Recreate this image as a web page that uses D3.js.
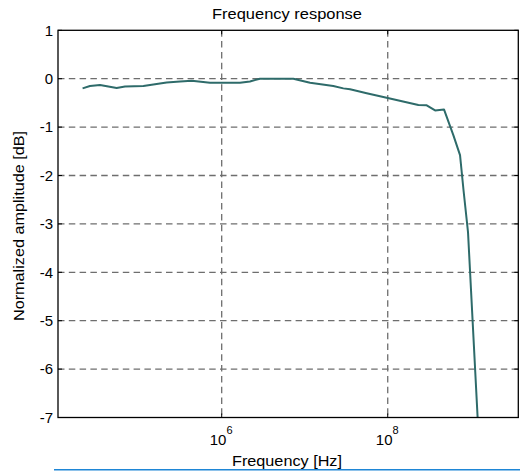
<!DOCTYPE html>
<html>
<head>
<meta charset="utf-8">
<script src="https://cdn.jsdelivr.net/npm/d3@7"></script>
<style>
html,body{margin:0;padding:0;background:#fff;}
svg{display:block;font-family:"Liberation Sans",Arial,sans-serif;}
</style>
</head>
<body>
<svg id="chart" width="520" height="471"></svg>
<script>
// Data
const frequencyHz = [2.11e4, 2.59e4, 3.42e4, 5.43e4, 6.84e4, 1.14e5, 2.17e5, 3.15e5, 4.36e5, 7.23e5,
  1.66e6, 2.19e6, 2.89e6, 7.29e6, 1.16e7, 2.21e7, 2.92e7, 3.52e7, 5.58e7, 7.36e7,
  1.0e8, 2.34e8, 2.95e8, 3.72e8, 4.76e8, 6.17e8, 7.43e8, 8.18e8, 9.27e8, 1.21e9, 1.26e9];
const amplitudeDb = [-0.20, -0.15, -0.13, -0.19, -0.16, -0.15, -0.08, -0.06, -0.04, -0.085,
  -0.085, -0.056, 0.0, 0.0, -0.085, -0.15, -0.20, -0.22, -0.30, -0.345,
  -0.40, -0.545, -0.55, -0.655, -0.634, -1.165, -1.58, -2.30, -3.17, -7.0, -7.73];
const xTicks = [1e6, 1e8];
const xTickExponents = ["6", "8"];
const yTicks = [1, 0, -1, -2, -3, -4, -5, -6, -7];
const xDomain = [1.067e4, 3.74e9];
const yDomain = [-7, 1];
const titleText = "Frequency response";
const xLabelText = "Frequency [Hz]";
const yLabelText = "Normalized amplitude [dB]";

const svg = d3.select("#chart");
const m = {left: 58, right: 518.3, top: 30.3, bottom: 417.5};
const fs = 15;

const x = d3.scaleLog().domain(xDomain).range([m.left, m.right]);
const y = d3.scaleLinear().domain(yDomain).range([m.bottom, m.top]);

svg.append("defs").append("clipPath").attr("id", "clip")
  .append("rect").attr("x", m.left).attr("y", m.top)
  .attr("width", m.right - m.left).attr("height", m.bottom - m.top);

const gridColor = "#6e6e6e";
// horizontal grid
svg.append("g").selectAll("line").data(yTicks.filter(d => d > yDomain[0] && d < yDomain[1])).join("line")
  .attr("x1", m.left).attr("x2", m.right)
  .attr("y1", d => y(d)).attr("y2", d => y(d))
  .attr("stroke", gridColor).attr("stroke-width", 1.3).attr("stroke-dasharray", "6.5,4.3");
// vertical grid
svg.append("g").selectAll("line").data(xTicks).join("line")
  .attr("x1", d => x(d)).attr("x2", d => x(d))
  .attr("y1", m.top).attr("y2", m.bottom)
  .attr("stroke", gridColor).attr("stroke-width", 1.3).attr("stroke-dasharray", "6.5,4.3");

// data line
const line = d3.line().x((d, i) => x(frequencyHz[i])).y(d => y(d));
svg.append("path").datum(amplitudeDb)
  .attr("clip-path", "url(#clip)")
  .attr("d", line)
  .attr("fill", "none").attr("stroke", "#2e6b6a").attr("stroke-width", 2)
  .attr("stroke-linejoin", "round");

// axes box
svg.append("rect").attr("x", m.left).attr("y", m.top)
  .attr("width", m.right - m.left).attr("height", m.bottom - m.top)
  .attr("fill", "none").attr("stroke", "#000").attr("stroke-width", 1.3);

// inward ticks
const tl = 4;
const tg = svg.append("g");
yTicks.forEach(d => {
  tg.append("line").attr("x1", m.left).attr("x2", m.left + tl).attr("y1", y(d)).attr("y2", y(d)).attr("stroke", "#000");
  tg.append("line").attr("x1", m.right).attr("x2", m.right - tl).attr("y1", y(d)).attr("y2", y(d)).attr("stroke", "#000");
});
xTicks.forEach(d => {
  tg.append("line").attr("x1", x(d)).attr("x2", x(d)).attr("y1", m.bottom).attr("y2", m.bottom - tl).attr("stroke", "#000");
  tg.append("line").attr("x1", x(d)).attr("x2", x(d)).attr("y1", m.top).attr("y2", m.top + tl).attr("stroke", "#000");
});

// y tick labels
svg.append("g").selectAll("text").data(yTicks).join("text")
  .attr("x", m.left - 5).attr("y", d => y(d)).attr("dy", "0.35em")
  .attr("text-anchor", "end").attr("font-size", fs).attr("fill", "#000")
  .text(d => d);

// x tick labels with superscript
const xl = svg.append("g");
xTicks.forEach((d, i) => {
  const t = xl.append("text").attr("x", x(d) - 0.5).attr("y", 444.5)
    .attr("text-anchor", "middle").attr("font-size", fs).attr("fill", "#000");
  t.append("tspan").text("10");
  t.append("tspan").attr("dy", -11).attr("font-size", 11).text(xTickExponents[i]);
});

// title
svg.append("text").attr("x", 287).attr("y", 19)
  .attr("text-anchor", "middle").attr("font-size", fs).attr("fill", "#000")
  .attr("textLength", 150).attr("lengthAdjust", "spacingAndGlyphs").text(titleText);
// x label
svg.append("text").attr("x", 287).attr("y", 466)
  .attr("text-anchor", "middle").attr("font-size", fs).attr("fill", "#000")
  .attr("textLength", 110).attr("lengthAdjust", "spacingAndGlyphs").text(xLabelText);
// y label
svg.append("text").attr("transform", "translate(24," + 226 + ") rotate(-90)")
  .attr("text-anchor", "middle").attr("font-size", fs).attr("fill", "#000")
  .attr("textLength", 190).attr("lengthAdjust", "spacingAndGlyphs").text(yLabelText);

// blue rule at bottom
svg.append("line").attr("x1", 54).attr("x2", 520).attr("y1", 469.8).attr("y2", 469.8)
  .attr("stroke", "#1e86d6").attr("stroke-width", 1.6);
</script>
</body>
</html>
